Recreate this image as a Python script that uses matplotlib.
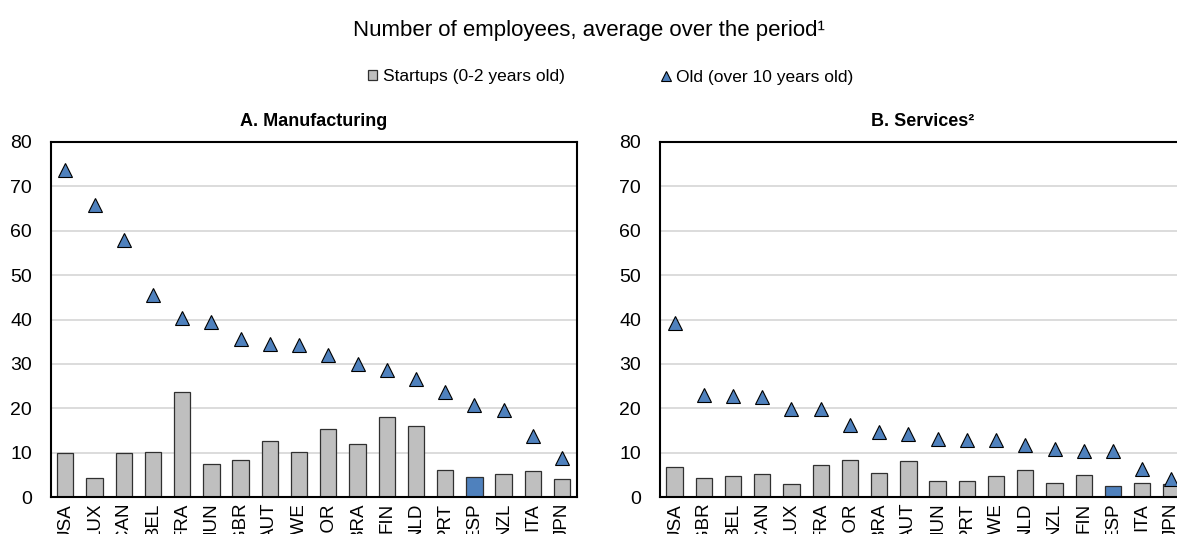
import matplotlib
matplotlib.use('Agg')
import matplotlib.pyplot as plt
from matplotlib import font_manager
import numpy as np

# ---------------- data ----------------
manuf_countries = ['USA', 'LUX', 'CAN', 'BEL', 'FRA', 'HUN', 'GBR', 'AUT', 'SWE',
                   'NOR', 'BRA', 'FIN', 'NLD', 'PRT', 'ESP', 'NZL', 'ITA', 'JPN']
manuf_startups = [10.0, 4.3, 10.0, 10.2, 23.8, 7.6, 8.3, 12.6, 10.1,
                  15.3, 11.9, 18.0, 16.0, 6.2, 4.6, 5.2, 5.9, 4.1]
manuf_old = [73.7, 65.8, 57.9, 45.6, 40.4, 39.4, 35.6, 34.5, 34.3,
             32.1, 29.9, 28.7, 26.7, 23.8, 20.8, 19.7, 13.8, 8.9]

serv_countries = ['USA', 'GBR', 'BEL', 'CAN', 'LUX', 'FRA', 'NOR', 'BRA', 'AUT',
                  'HUN', 'PRT', 'SWE', 'NLD', 'NZL', 'FIN', 'ESP', 'ITA', 'JPN']
serv_startups = [6.9, 4.3, 4.9, 5.2, 3.1, 7.2, 8.5, 5.4, 8.2,
                 3.7, 3.6, 4.9, 6.1, 3.2, 5.1, 2.5, 3.2, 3.0]
serv_old = [39.3, 23.1, 22.8, 22.5, 19.9, 19.9, 16.3, 14.8, 14.2,
            13.2, 13.0, 12.8, 11.7, 10.9, 10.4, 10.4, 6.4, 4.1]

highlight = 'ESP'
series_labels = ['Startups (0-2 years old)', 'Old (over 10 years old)']
main_title = 'Number of employees, average over the period\u00b9'
panel_titles = ['A. Manufacturing', 'B. Services\u00b2']

# ---------------- style ----------------
names = {f.name for f in font_manager.fontManager.ttflist}
NARROW = 'Liberation Sans Narrow' if 'Liberation Sans Narrow' in names else 'Liberation Sans'
REG = 'Liberation Sans'
GRAY = '#BFBFBF'
BLUE = '#4F81BD'

W, H = 1177, 534
fig = plt.figure(figsize=(W / 100, H / 100), dpi=100)


def rect(left, right, top, bottom):
    return [left / W, 1 - bottom / H, (right - left) / W, (bottom - top) / H]


def panel(ax, countries, startups, old):
    x = np.arange(len(countries))
    colors = [BLUE if c == highlight else GRAY for c in countries]
    bars = ax.bar(x, startups, width=0.56, color=colors, edgecolor='#303030',
                  linewidth=0.9, zorder=2)
    line, = ax.plot(x, old, linestyle='none', marker='^', ms=9.5, mfc=BLUE,
                    mec='black', mew=0.8, zorder=3, clip_on=False)
    ax.set_xlim(-0.5, len(countries) - 0.5)
    ax.set_ylim(0, 80)
    ax.set_yticks(range(0, 81, 10))
    ax.yaxis.grid(True, color='#D9D9D9', lw=1.3)
    ax.set_axisbelow(True)
    ax.set_xticks(x)
    ax.set_xticklabels(countries, rotation=90, fontfamily=NARROW, fontsize=13.5)
    for lab in ax.get_yticklabels():
        lab.set_fontfamily(NARROW)
        lab.set_fontsize(14)
    ax.tick_params(axis='y', length=0, pad=13.5)
    ax.tick_params(axis='x', length=0, pad=4)
    for s in ax.spines.values():
        s.set_linewidth(1.5)
        s.set_color('black')
    return bars, line


ax1 = fig.add_axes(rect(50.7, 576.7, 141.7, 497.3))
ax2 = fig.add_axes(rect(660, 1186, 141.7, 497.3))
bars, tri = panel(ax1, manuf_countries, manuf_startups, manuf_old)
panel(ax2, serv_countries, serv_startups, serv_old)

fig.text(0.5, 1 - 36 / H, main_title, ha='center', va='baseline',
         fontsize=16, fontfamily=REG)
fig.text((50.7 + 576.7) / 2 / W, 1 - 126 / H, panel_titles[0], ha='center',
         va='baseline', fontsize=13, fontweight='bold', fontfamily=NARROW)
fig.text((660 + 1186) / 2 / W, 1 - 126 / H, panel_titles[1], ha='center',
         va='baseline', fontsize=13, fontweight='bold', fontfamily=NARROW)

leg_font = {'family': NARROW, 'size': 12.5}
bar_handle = bars.patches[0]
leg1 = fig.legend([bar_handle], [series_labels[0]], loc='center left',
                  bbox_to_anchor=(368 / W, 1 - 77 / H), frameon=False,
                  prop=leg_font, handlelength=0.5, handleheight=0.5,
                  handletextpad=0.35, borderpad=0, borderaxespad=0)
leg2 = fig.legend([tri], [series_labels[1]], loc='center left',
                  bbox_to_anchor=(661 / W, 1 - 77 / H), frameon=False,
                  prop=leg_font, handlelength=0.6, markerscale=0.75,
                  handletextpad=0.25, borderpad=0, borderaxespad=0)

fig.savefig('out.png', dpi=100)
